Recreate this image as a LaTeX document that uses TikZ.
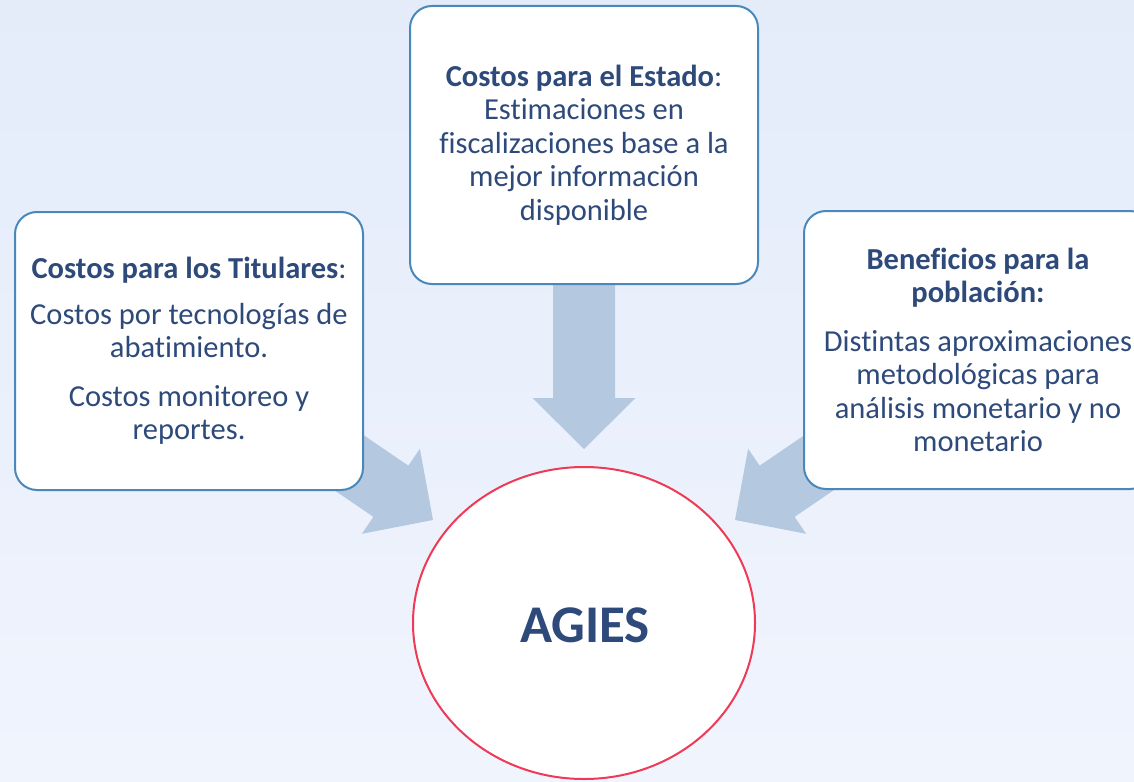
\documentclass[tikz,border=0pt]{standalone}
\usepackage{fontspec}
\setmainfont{Carlito}[Ligatures=NoCommon]
\usetikzlibrary{shapes.geometric}
\definecolor{bgtop}{HTML}{E4ECFA}
\definecolor{bgbot}{HTML}{F0F4FD}
\definecolor{boxblue}{HTML}{4A88BA}
\definecolor{txtblue}{HTML}{2E4A7B}
\definecolor{arrowblue}{HTML}{B4C9E0}
\definecolor{ringred}{HTML}{EE3A55}
\tikzset{
  infobox/.style={draw=boxblue, line width=2pt, fill=white, rounded corners=22pt,
    minimum width=348pt, minimum height=278pt, align=center, text=txtblue,
    font=\fontsize{30.5}{33.5}\selectfont, inner sep=0pt},
  blockarrow/.style={fill=arrowblue},
  hub/.style={ellipse, draw=ringred, line width=2pt, fill=white,
    minimum width=342pt, minimum height=312pt, inner sep=0pt},
}
\begin{document}
\begin{tikzpicture}[x=1pt,y=-1pt]
\useasboundingbox (0,0) rectangle (1134,781);
\shade[top color=bgtop, bottom color=bgbot] (0,0) rectangle (1134,781);
\begin{scope}
\clip (0,0) rectangle (1134,781);
% arrow tips
\coordinate (ltip) at (433,520);
\coordinate (ttip) at (584,449);
\coordinate (rtip) at (735,520);
% block arrows (behind the boxes)
\fill[blockarrow, shift={(ltip)}, rotate=-34.3]
  (0,0) -- (-51,51.5) -- (-51,31) -- (-220,31) -- (-220,-31) -- (-51,-31) -- (-51,-51.5) -- cycle;
\fill[blockarrow, shift={(rtip)}, rotate=-145.7]
  (0,0) -- (-51,51.5) -- (-51,31) -- (-220,31) -- (-220,-31) -- (-51,-31) -- (-51,-51.5) -- cycle;
\fill[blockarrow, shift={(ttip)}, rotate=-90]
  (0,0) -- (-51,51.5) -- (-51,31) -- (-175,31) -- (-175,-31) -- (-51,-31) -- (-51,-51.5) -- cycle;
% boxes
\node[infobox] (tit) at (189,351) {\textbf{Costos para los Titulares}:\\[12pt]
  Costos por tecnologías de\\ abatimiento.\\[15pt] Costos monitoreo y\\ reportes.};
\node[infobox] (est) at (584,145) {\textbf{Costos para el Estado}:\\ Estimaciones en\\
  fiscalizaciones base a la\\ mejor información\\ disponible};
\node[infobox] (pob) at (978,350) {\textbf{Beneficios para la}\\ \textbf{población:}\\[15pt]
  Distintas aproximaciones\\ metodológicas para\\ análisis monetario y no\\ monetario};
% hub
\node[hub] (agies) at (584,623) {};
\node[text=txtblue, font=\fontsize{53}{60}\selectfont\bfseries] (agiestxt) at (585,625) {AGIES};
\end{scope}
\end{tikzpicture}
\end{document}
